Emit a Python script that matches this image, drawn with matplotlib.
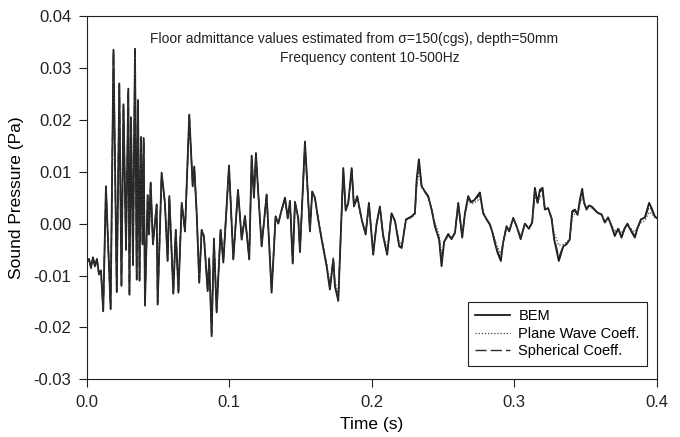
import matplotlib
matplotlib.use('Agg')
import matplotlib.pyplot as plt

plt.rcParams['font.family'] = ['Liberation Sans', 'DejaVu Sans']

# time axis (s), shared by the three curves
time_s = [
    0.0000, 0.0016, 0.0030, 0.0044, 0.0058, 0.0072, 0.0086, 0.0100, 0.0116, 0.0135,
    0.0168, 0.0188, 0.0211, 0.0229, 0.0244, 0.0258, 0.0276, 0.0292, 0.0300, 0.0311,
    0.0325, 0.0339, 0.0351, 0.0360, 0.0371, 0.0381, 0.0392, 0.0400, 0.0409, 0.0428,
    0.0437, 0.0449, 0.0465, 0.0491, 0.0498, 0.0526, 0.0549, 0.0568, 0.0580, 0.0608,
    0.0625, 0.0644, 0.0667, 0.0690, 0.0720, 0.0744, 0.0755, 0.0772, 0.0790, 0.0807,
    0.0823, 0.0849, 0.0860, 0.0877, 0.0893, 0.0912, 0.0940, 0.0959, 0.0999, 0.1029,
    0.1062, 0.1088, 0.1111, 0.1141, 0.1158, 0.1174, 0.1188, 0.1204, 0.1228, 0.1263,
    0.1298, 0.1326, 0.1345, 0.1364, 0.1392, 0.1411, 0.1427, 0.1446, 0.1462, 0.1485,
    0.1497, 0.1532, 0.1567, 0.1583, 0.1602, 0.1625, 0.1649, 0.1684, 0.1707, 0.1731,
    0.1742, 0.1766, 0.1801, 0.1818, 0.1836, 0.1860, 0.1876, 0.1899, 0.1930, 0.1958,
    0.1981, 0.2011, 0.2035, 0.2058, 0.2081, 0.2109, 0.2140, 0.2164, 0.2194, 0.2211,
    0.2241, 0.2281, 0.2304, 0.2316, 0.2332, 0.2351, 0.2374, 0.2397, 0.2421, 0.2444,
    0.2474, 0.2491, 0.2509, 0.2538, 0.2561, 0.2585, 0.2608, 0.2636, 0.2655, 0.2678,
    0.2697, 0.2720, 0.2760, 0.2783, 0.2807, 0.2830, 0.2846, 0.2865, 0.2884, 0.2907,
    0.2923, 0.2947, 0.2966, 0.2994, 0.3018, 0.3046, 0.3076, 0.3104, 0.3127, 0.3146,
    0.3165, 0.3181, 0.3200, 0.3216, 0.3239, 0.3263, 0.3281, 0.3314, 0.3345, 0.3368,
    0.3390, 0.3408, 0.3427, 0.3446, 0.3462, 0.3478, 0.3492, 0.3509, 0.3525, 0.3544,
    0.3562, 0.3586, 0.3614, 0.3637, 0.3660, 0.3684, 0.3707, 0.3731, 0.3754, 0.3778,
    0.3796, 0.3813, 0.3829, 0.3848, 0.3867, 0.3890, 0.3918, 0.3948, 0.3965, 0.3988,
    0.4000,
]

bem = [
    -0.0075, -0.0068, -0.0085, -0.0065, -0.0082, -0.0068, -0.0098, -0.0090, -0.0169, 0.0072,
    -0.0165, 0.0335, -0.0132, 0.0270, -0.0120, 0.0230, -0.0050, 0.0260, -0.0137, 0.0205,
    -0.0080, 0.0337, -0.0108, 0.0238, -0.0110, 0.0167, -0.0040, 0.0165, -0.0158, 0.0055,
    -0.0020, 0.0079, -0.0040, 0.0037, -0.0156, 0.0098, 0.0040, -0.0072, 0.0053, -0.0135,
    -0.0012, -0.0133, 0.0040, -0.0015, 0.0210, 0.0072, 0.0110, 0.0020, -0.0114, -0.0012,
    -0.0025, -0.0130, -0.0069, -0.0217, -0.0030, -0.0171, -0.0012, -0.0075, 0.0112, -0.0069,
    0.0065, -0.0031, 0.0014, -0.0069, 0.0131, 0.0050, 0.0136, 0.0060, -0.0044, 0.0056,
    -0.0133, 0.0014, 0.0000, 0.0022, 0.0050, 0.0010, 0.0044, -0.0077, 0.0042, 0.0010,
    -0.0055, 0.0158, -0.0015, 0.0062, 0.0050, 0.0008, -0.0030, -0.0082, -0.0127, -0.0069,
    -0.0120, -0.0149, 0.0107, 0.0025, 0.0040, 0.0107, 0.0033, 0.0053, 0.0008, -0.0021,
    0.0040, -0.0060, 0.0000, 0.0033, -0.0024, -0.0060, 0.0020, 0.0005, -0.0044, -0.0047,
    0.0008, 0.0014, 0.0020, 0.0085, 0.0124, 0.0072, 0.0062, 0.0053, 0.0027, -0.0005,
    -0.0031, -0.0082, -0.0035, -0.0020, -0.0030, -0.0018, 0.0040, -0.0027, 0.0020, 0.0053,
    0.0042, 0.0045, 0.0060, 0.0020, 0.0008, -0.0002, -0.0015, -0.0037, -0.0056, -0.0072,
    -0.0037, -0.0005, -0.0015, 0.0011, -0.0005, -0.0030, 0.0000, -0.0010, 0.0002, 0.0069,
    0.0040, 0.0065, 0.0069, 0.0027, 0.0030, 0.0010, -0.0030, -0.0072, -0.0044, -0.0040,
    -0.0031, 0.0024, 0.0027, 0.0017, 0.0046, 0.0067, 0.0040, 0.0027, 0.0035, 0.0033,
    0.0028, 0.0021, 0.0018, 0.0002, 0.0012, -0.0005, -0.0024, -0.0010, -0.0027, -0.0008,
    0.0000, -0.0010, -0.0018, -0.0027, -0.0008, 0.0008, 0.0012, 0.0040, 0.0030, 0.0014,
    0.0011,
]

plane_wave = [
    -0.0078, -0.0072, -0.0088, -0.0070, -0.0085, -0.0072, -0.0100, -0.0095, -0.0160, 0.0065,
    -0.0158, 0.0320, -0.0125, 0.0262, -0.0112, 0.0225, -0.0048, 0.0250, -0.0128, 0.0198,
    -0.0075, 0.0325, -0.0100, 0.0230, -0.0102, 0.0160, -0.0038, 0.0158, -0.0150, 0.0052,
    -0.0018, 0.0075, -0.0036, 0.0034, -0.0148, 0.0092, 0.0038, -0.0066, 0.0050, -0.0128,
    -0.0010, -0.0126, 0.0038, -0.0012, 0.0200, 0.0075, 0.0105, 0.0022, -0.0106, -0.0010,
    -0.0022, -0.0122, -0.0064, -0.0200, -0.0028, -0.0162, -0.0010, -0.0068, 0.0105, -0.0062,
    0.0060, -0.0028, 0.0014, -0.0062, 0.0120, 0.0050, 0.0125, 0.0058, -0.0038, 0.0052,
    -0.0124, 0.0012, 0.0002, 0.0020, 0.0046, 0.0012, 0.0040, -0.0068, 0.0038, 0.0012,
    -0.0048, 0.0145, -0.0010, 0.0060, 0.0048, 0.0010, -0.0026, -0.0075, -0.0115, -0.0066,
    -0.0110, -0.0135, 0.0096, 0.0025, 0.0040, 0.0098, 0.0032, 0.0048, 0.0008, -0.0018,
    0.0034, -0.0050, 0.0000, 0.0028, -0.0020, -0.0050, 0.0016, 0.0004, -0.0036, -0.0040,
    0.0006, 0.0012, 0.0018, 0.0070, 0.0100, 0.0070, 0.0060, 0.0050, 0.0030, 0.0002,
    -0.0022, -0.0060, -0.0035, -0.0025, -0.0026, -0.0016, 0.0030, -0.0018, 0.0018, 0.0044,
    0.0038, 0.0040, 0.0048, 0.0022, 0.0010, 0.0000, -0.0012, -0.0030, -0.0045, -0.0058,
    -0.0035, -0.0008, -0.0012, 0.0008, -0.0004, -0.0024, -0.0002, -0.0008, 0.0002, 0.0052,
    0.0040, 0.0052, 0.0056, 0.0030, 0.0028, 0.0012, -0.0018, -0.0042, -0.0040, -0.0036,
    -0.0030, 0.0012, 0.0020, 0.0018, 0.0036, 0.0050, 0.0038, 0.0030, 0.0032, 0.0030,
    0.0026, 0.0020, 0.0016, 0.0004, 0.0010, -0.0002, -0.0016, -0.0008, -0.0018, -0.0008,
    -0.0004, -0.0008, -0.0012, -0.0016, -0.0008, 0.0002, 0.0006, 0.0022, 0.0020, 0.0012,
    0.0010,
]

spherical = [
    -0.0074, -0.0069, -0.0084, -0.0066, -0.0081, -0.0069, -0.0097, -0.0091, -0.0167, 0.0070,
    -0.0163, 0.0332, -0.0130, 0.0268, -0.0118, 0.0228, -0.0051, 0.0257, -0.0135, 0.0203,
    -0.0078, 0.0334, -0.0106, 0.0236, -0.0108, 0.0165, -0.0041, 0.0163, -0.0155, 0.0054,
    -0.0021, 0.0078, -0.0039, 0.0036, -0.0153, 0.0096, 0.0041, -0.0070, 0.0052, -0.0133,
    -0.0013, -0.0130, 0.0039, -0.0014, 0.0207, 0.0074, 0.0108, 0.0021, -0.0111, -0.0013,
    -0.0024, -0.0127, -0.0068, -0.0212, -0.0029, -0.0168, -0.0011, -0.0073, 0.0110, -0.0067,
    0.0064, -0.0030, 0.0015, -0.0067, 0.0128, 0.0051, 0.0133, 0.0060, -0.0042, 0.0055,
    -0.0130, 0.0014, 0.0001, 0.0021, 0.0049, 0.0011, 0.0043, -0.0074, 0.0041, 0.0011,
    -0.0053, 0.0154, -0.0014, 0.0061, 0.0049, 0.0009, -0.0029, -0.0080, -0.0124, -0.0068,
    -0.0117, -0.0145, 0.0104, 0.0026, 0.0040, 0.0104, 0.0033, 0.0051, 0.0008, -0.0020,
    0.0038, -0.0057, 0.0000, 0.0031, -0.0023, -0.0057, 0.0019, 0.0005, -0.0042, -0.0045,
    0.0008, 0.0013, 0.0020, 0.0080, 0.0118, 0.0072, 0.0061, 0.0052, 0.0028, -0.0003,
    -0.0029, -0.0076, -0.0035, -0.0021, -0.0029, -0.0017, 0.0037, -0.0025, 0.0019, 0.0050,
    0.0041, 0.0043, 0.0056, 0.0021, 0.0009, -0.0001, -0.0014, -0.0035, -0.0053, -0.0068,
    -0.0036, -0.0006, -0.0014, 0.0010, -0.0005, -0.0028, 0.0000, -0.0009, 0.0002, 0.0064,
    0.0040, 0.0061, 0.0065, 0.0028, 0.0029, 0.0011, -0.0027, -0.0065, -0.0043, -0.0039,
    -0.0031, 0.0021, 0.0025, 0.0017, 0.0043, 0.0062, 0.0040, 0.0028, 0.0034, 0.0032,
    0.0027, 0.0021, 0.0017, 0.0003, 0.0011, -0.0004, -0.0022, -0.0010, -0.0025, -0.0008,
    -0.0002, -0.0009, -0.0016, -0.0024, -0.0008, 0.0006, 0.0010, 0.0034, 0.0027, 0.0013,
    0.0011,
]

x_ticks = [0.0, 0.1, 0.2, 0.3, 0.4]
y_ticks = [-0.03, -0.02, -0.01, 0.00, 0.01, 0.02, 0.03, 0.04]

fig = plt.figure(figsize=(6.8, 4.37), dpi=100)
ax = fig.add_axes([0.1275, 0.132, 0.838, 0.8314])

ax.plot(time_s, bem, color='#1a1a1a', linewidth=1.3, linestyle='-', label='BEM')
ax.plot(time_s, plane_wave, color='#444444', linewidth=0.9, linestyle=(0, (1, 1.5)),
        label='Plane Wave Coeff.')
ax.plot(time_s, spherical, color='#2a2a2a', linewidth=1.0, linestyle=(0, (8, 3)),
        label='Spherical Coeff.')

ax.set_xlim(0, 0.4)
ax.set_ylim(-0.03, 0.04)
ax.set_xticks(x_ticks)
ax.set_xticklabels([f'{v:.1f}' for v in x_ticks])
ax.set_yticks(y_ticks)
ax.set_yticklabels([f'{v:.2f}'.replace('-0.00', '0.00') for v in y_ticks])
ax.tick_params(direction='out', length=6, width=0.8, labelsize=12, pad=5, colors='#222222')

for sp in ax.spines.values():
    sp.set_linewidth(0.8)
    sp.set_color('#222222')

ax.set_xlabel('Time (s)', fontsize=12.5, labelpad=5)
ax.set_ylabel('Sound Pressure (Pa)', fontsize=12.5, labelpad=7)

ax.text(0.188, 0.0356, 'Floor admittance values estimated from \u03c3=150(cgs), depth=50mm',
        ha='center', va='center', fontsize=10, color='#222222')
ax.text(0.1985, 0.0319, 'Frequency content 10-500Hz',
        ha='center', va='center', fontsize=10, color='#222222')

leg = ax.legend(loc='lower right', bbox_to_anchor=(0.9835, 0.0374), borderaxespad=0,
                fancybox=False, framealpha=1, edgecolor='#222222', fontsize=10.5,
                handlelength=2.4, handletextpad=0.55, borderpad=0.5, labelspacing=0.25)
leg.get_frame().set_linewidth(0.8)

plt.savefig('out.png', dpi=100)
plt.close()
